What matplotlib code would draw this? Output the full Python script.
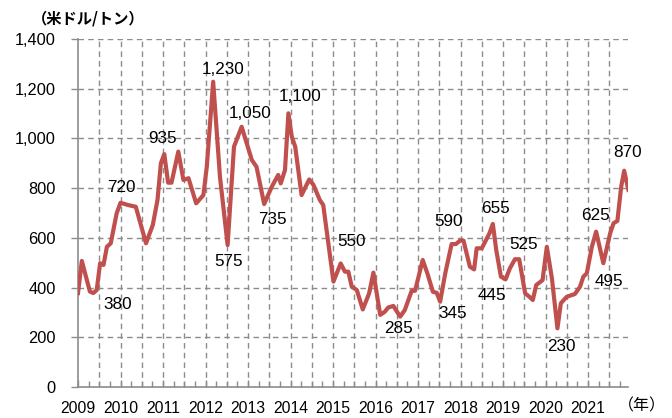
import numpy as np
import matplotlib
matplotlib.use('Agg')
import matplotlib.pyplot as plt
from matplotlib.ticker import MultipleLocator, FuncFormatter

plt.rcParams['font.family'] = ['Liberation Sans', 'Noto Sans CJK JP', 'DejaVu Sans']

# -------------------------
# データ（年, 米ドル/トン）
# -------------------------
dates = [2009.00, 2009.09, 2009.28, 2009.36, 2009.44, 2009.52, 2009.60, 2009.68, 2009.77, 2009.91,
         2010.00, 2010.18, 2010.36, 2010.60, 2010.76, 2010.87, 2010.95, 2011.03, 2011.12, 2011.20,
         2011.36, 2011.48, 2011.60, 2011.78, 2011.95, 2012.03, 2012.18, 2012.34, 2012.52, 2012.67,
         2012.85, 2013.09, 2013.20, 2013.38, 2013.56, 2013.71, 2013.77, 2013.87, 2013.95, 2014.03,
         2014.11, 2014.26, 2014.44, 2014.54, 2014.69, 2014.77, 2014.89, 2015.01, 2015.18, 2015.28,
         2015.36, 2015.44, 2015.56, 2015.70, 2015.85, 2015.95, 2016.11, 2016.22, 2016.30, 2016.42,
         2016.58, 2016.69, 2016.85, 2016.93, 2017.11, 2017.22, 2017.35, 2017.44, 2017.52, 2017.64,
         2017.79, 2017.89, 2017.99, 2018.07, 2018.22, 2018.32, 2018.38, 2018.50, 2018.68, 2018.76,
         2018.84, 2018.95, 2019.06, 2019.16, 2019.28, 2019.38, 2019.52, 2019.62, 2019.70, 2019.78,
         2019.93, 2020.03, 2020.15, 2020.28, 2020.36, 2020.50, 2020.69, 2020.81, 2020.89, 2020.97,
         2021.09, 2021.19, 2021.36, 2021.52, 2021.60, 2021.69, 2021.78, 2021.85, 2021.95]
prices = [378, 507, 384, 378, 390, 498, 491, 564, 578, 699,
          741, 732, 725, 578, 652, 752, 900, 937, 822, 822,
          947, 833, 840, 739, 772, 886, 1228, 846, 571, 967,
          1047, 913, 886, 736, 806, 853, 819, 873, 1101, 1007,
          967, 772, 835, 813, 752, 732, 578, 424, 497, 464,
          464, 404, 390, 312, 377, 460, 290, 303, 320, 326,
          283, 310, 387, 387, 511, 457, 383, 379, 343, 457,
          575, 575, 589, 589, 484, 473, 558, 558, 618, 656,
          551, 444, 433, 477, 514, 514, 377, 363, 350, 410,
          430, 564, 437, 236, 337, 363, 374, 403, 444, 457,
          564, 625, 498, 618, 659, 668, 806, 870, 793]

# 注記（ラベル値, 日付）
label_values = [380, 720, 935, 1230, 575, 1050, 735, 1100, 550, 285,
                345, 590, 655, 445, 525, 230, 625, 495, 870]
label_dates = [2009.36, 2010.00, 2011.03, 2012.18, 2012.52, 2012.85, 2013.38, 2013.95, 2015.01, 2016.58,
               2017.52, 2017.99, 2018.76, 2019.06, 2019.33, 2020.28, 2021.19, 2021.36, 2021.85]
# 表示位置のずれ（ピクセル）
label_offsets = [(24, -12), (1, 21), (-2, 16), (10, 12), (1, -17), (8, 13), (8, -15), (12, 17), (18, 9), (-2, -12),
                 (13, -12), (-12, 19), (3, 16), (-14, -19), (6, 12), (4, -17), (-1, 16), (6, -18), (3, 18)]

years = list(range(2009, 2022))

# -------------------------
# グラフ
# -------------------------
fig = plt.figure(figsize=(6.72, 4.18), dpi=100)
ax = fig.add_axes([78 / 672, 1 - 387 / 418, 550 / 672, 348 / 418])

grid_kw = dict(color='#8c8c8c', lw=1.0, ls=(0, (4, 3)), zorder=1)
for y in range(200, 1401, 200):
    ax.axhline(y, **grid_kw)
for x in np.arange(2009.5, 2021.6, 0.5):
    ax.axvline(x, **grid_kw)

ax.plot(dates, prices, color='#C0504D', lw=3.0, solid_joinstyle='round', zorder=3)

for v, d, (dx, dy) in zip(label_values, label_dates, label_offsets):
    ax.annotate(f'{v:,}', xy=(d, v), xytext=(dx, dy), textcoords='offset pixels',
                ha='center', va='center', fontsize=12.3, color='black', zorder=4)

ax.set_xlim(2009.0, 2021.94)
ax.set_ylim(0, 1400)
ax.yaxis.set_major_locator(MultipleLocator(200))
ax.yaxis.set_major_formatter(FuncFormatter(lambda v, p: f'{int(v):,}'))
ax.set_xticks(years)
ax.set_xticklabels([str(y) for y in years])
ax.xaxis.set_minor_locator(MultipleLocator(0.25))

for s in ['top', 'right']:
    ax.spines[s].set_visible(False)
for s in ['left', 'bottom']:
    ax.spines[s].set_color('#8c8c8c')
    ax.spines[s].set_linewidth(1.2)

ax.tick_params(axis='y', direction='out', length=5, width=1, color='#8c8c8c', pad=11, labelsize=11.8)
ax.tick_params(axis='x', which='major', direction='in', length=5, width=1, color='#8c8c8c', pad=10, labelsize=11.3)
ax.tick_params(axis='x', which='minor', direction='in', length=4, width=1, color='#8c8c8c')

fig.text(32 / 672, 1 - 19 / 418, '（米ドル/トン）', fontsize=11, fontweight='bold',
         family=['Noto Sans CJK JP'], ha='left', va='center')
fig.text(642 / 672, 1 - 406 / 418, '（年）', fontsize=11.5,
         family=['Noto Sans CJK JP'], ha='center', va='center')

fig.savefig('out.png', dpi=100)
